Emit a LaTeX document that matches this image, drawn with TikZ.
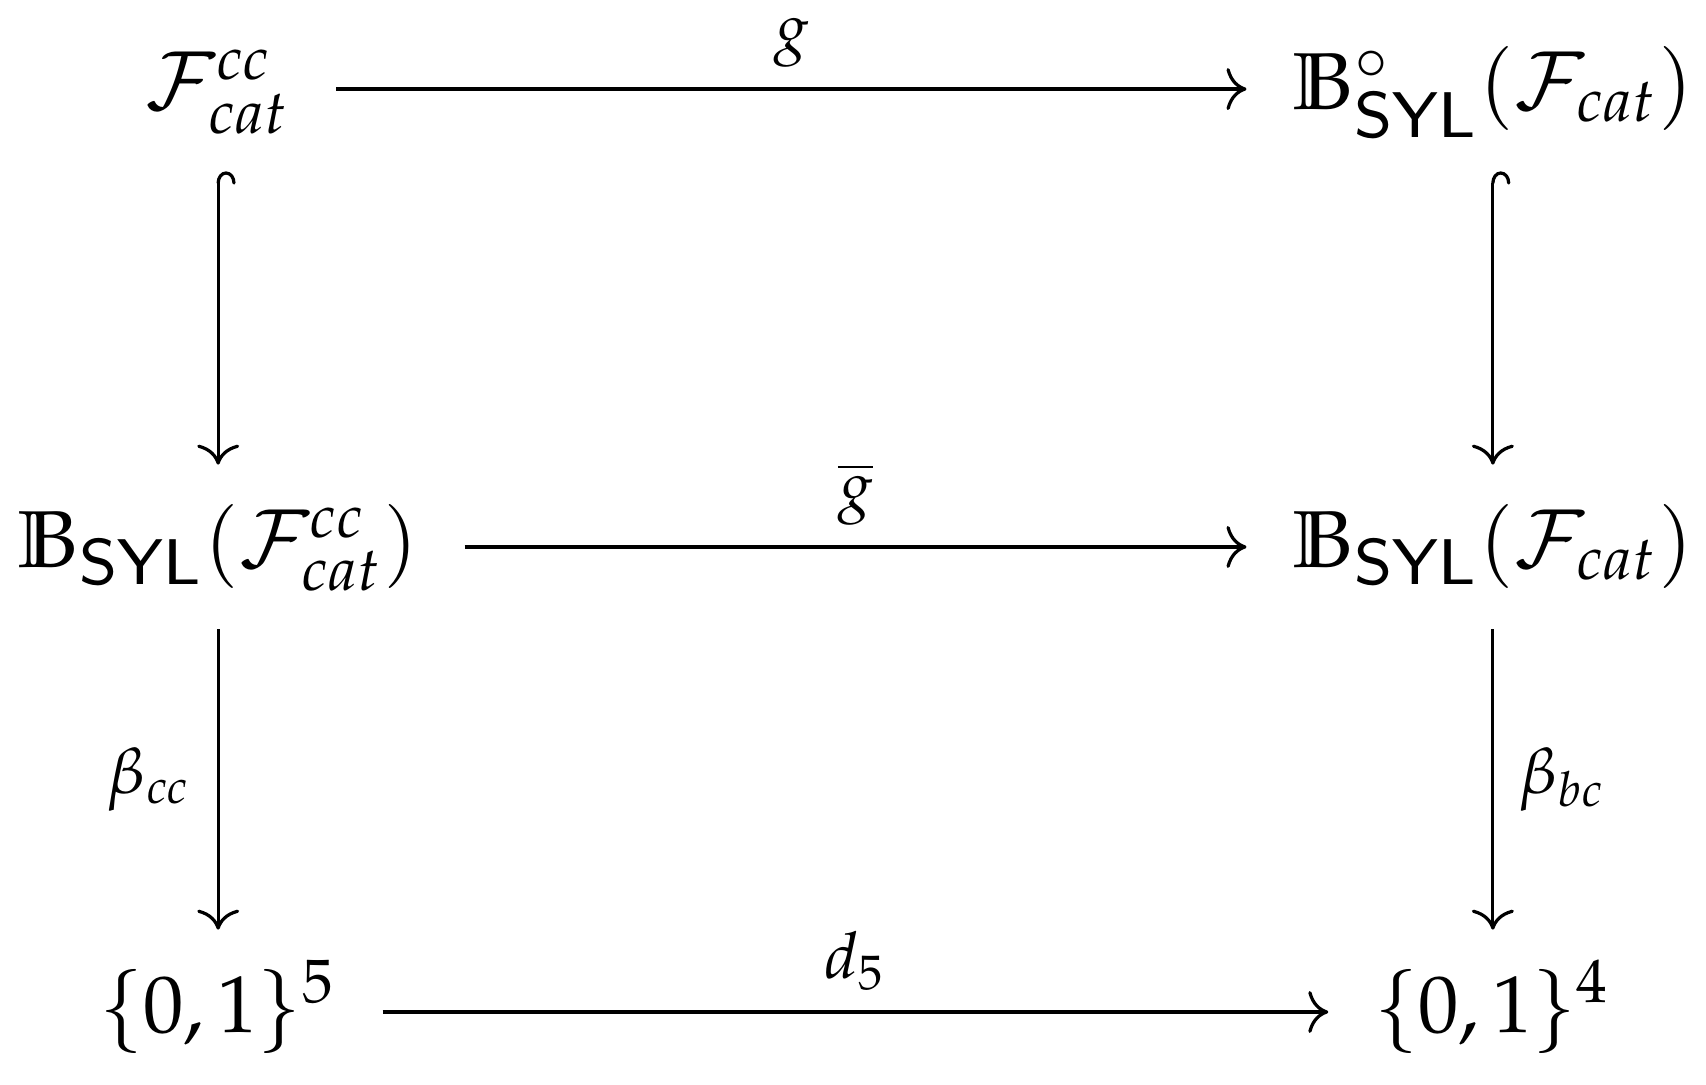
\documentclass[tikz,border=0pt]{standalone}
\usepackage{amsmath,amssymb}
\usepackage{mathpazo}
\usepackage[scaled=0.92]{helvet}
\usetikzlibrary{cd}

\begin{document}
\begin{tikzpicture}[
    obj/.style = {inner xsep=5.5pt, inner ysep=2.5pt, text height=10pt, text depth=5pt},
    map/.style = {-{tikzcd to}},
    incl/.style = {{tikzcd right hook}-{tikzcd to}},
    lbl/.style = {inner sep=1.5pt, font=\footnotesize}]
    % page size
    \useasboundingbox (0,0) rectangle (7.429,4.721);

    % objects
    \node[obj] (Fcc) at (0.950,4.333) {$\mathcal{F}^{cc}_{cat}$};
    \node[obj] (BoF) at (6.501,4.333) {$\mathbb{B}^{\circ}_{\mathsf{SYL}}(\mathcal{F}_{cat})$};
    \node[obj] (BFcc) at (0.950,2.339) {$\mathbb{B}_{\mathsf{SYL}}(\mathcal{F}^{cc}_{cat})$};
    \node[obj] (BF) at (6.501,2.339) {$\mathbb{B}_{\mathsf{SYL}}(\mathcal{F}_{cat})$};
    \node[obj] (C5) at (0.950,0.314) {$\{0,1\}^5$};
    \node[obj] (C4) at (6.501,0.314) {$\{0,1\}^4$};

    % horizontal maps
    \draw[map] (Fcc) -- (BoF) node[lbl, midway, above=1pt] {$g$};
    \draw[map] (BFcc) -- (BF) node[lbl, midway, above=1pt] {$\overline{g}$};
    \draw[map] (C5) -- (C4) node[lbl, midway, above=1pt] {$d_5$};

    % vertical maps
    \draw[incl] (Fcc) -- (BFcc);
    \draw[incl] (BoF) -- (BF);
    \draw[map] (BFcc) -- (C5) node[lbl, midway, left=1.5pt] {$\beta_{cc}$};
    \draw[map] (BF) -- (C4) node[lbl, midway, right=1.5pt] {$\beta_{bc}$};
\end{tikzpicture}
\end{document}
